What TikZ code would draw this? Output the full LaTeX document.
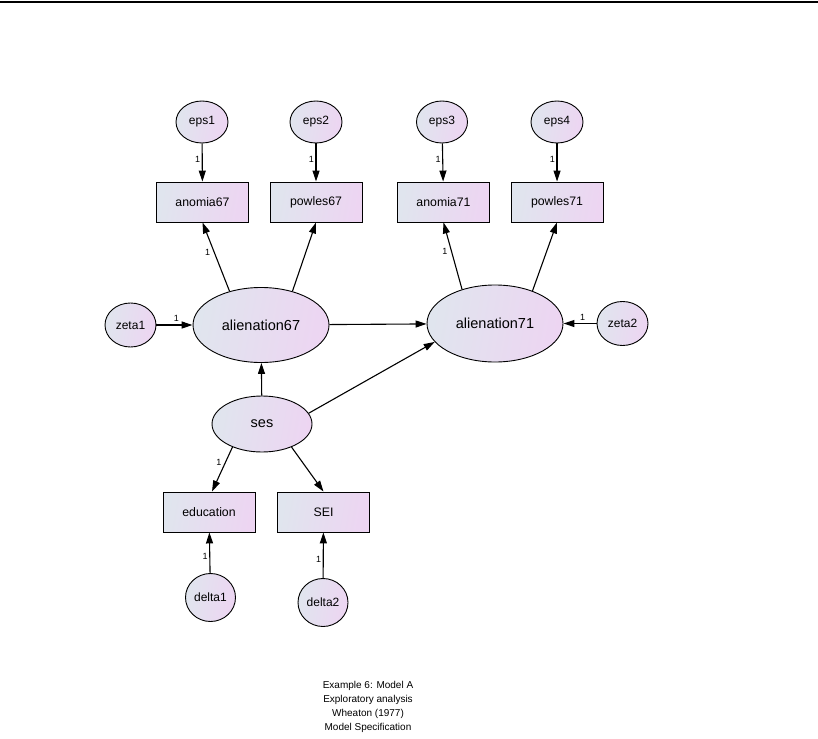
\documentclass[tikz,border=0pt]{standalone}
\usepackage{fontspec}
\setmainfont{Liberation Sans}
\usetikzlibrary{shapes.geometric,arrows.meta}
\definecolor{shA}{HTML}{E0E5EE}
\definecolor{shB}{HTML}{EDD5F2}
\tikzset{
  fillgrad/.style={left color=shA, right color=shB, shading angle=80},
  latent/.style={ellipse, draw, line width=0.9pt, fillgrad, inner sep=0pt},
  small/.style={latent, font=\fontsize{12}{12}\selectfont},
  big/.style={latent, font=\fontsize{14.5}{14.5}\selectfont},
  obs/.style={rectangle, draw, line width=0.9pt, fillgrad, minimum width=92pt, minimum height=40pt, inner sep=0pt, font=\fontsize{12.3}{12.3}\selectfont},
  conn/.style={line width=1.1pt, -{Triangle[length=11pt,width=7pt]}},
  lbl/.style={font=\fontsize{9}{9}\selectfont, inner sep=1.5pt}
}
\begin{document}
\begin{tikzpicture}[x=1pt,y=-1pt]
\useasboundingbox (0,0) rectangle (818,738);
\draw[line width=1.4pt] (0,2) coordinate (tl) -- (818,2) coordinate (tr);
% error terms
\node[small, minimum width=52pt, minimum height=42pt] (eps1) at (202,122) {eps1};
\node[small, minimum width=52pt, minimum height=42pt] (eps2) at (316,122) {eps2};
\node[small, minimum width=51pt, minimum height=42pt] (eps3) at (442,122) {eps3};
\node[small, minimum width=52pt, minimum height=42pt] (eps4) at (557,122) {eps4};
% observed
\node[obs] (an67) at (202.5,202) {anomia67};
\node[obs] (pw67) at (316,202) {powles67};
\node[obs] (an71) at (443.5,202) {anomia71};
\node[obs] (pw71) at (557,202) {powles71};
% latent
\node[big, minimum width=136pt, minimum height=75pt] (a67) at (261,325) {alienation67};
\node[big, minimum width=136pt, minimum height=77pt] (a71) at (495,323.5) {alienation71};
\node[small, minimum width=51pt, minimum height=44pt] (zeta1) at (130.5,325) {zeta1};
\node[small, minimum width=51pt, minimum height=44pt] (zeta2) at (622.5,323.5) {zeta2};
\node[big, minimum width=100pt, minimum height=56pt] (ses) at (262,424) {ses};
\node[obs] (edu) at (209,512) {education};
\node[obs] (sei) at (323.5,512) {SEI};
\node[small, minimum width=50pt, minimum height=48pt] (delta1) at (210.5,597.5) {delta1};
\node[small, minimum width=50pt, minimum height=48pt] (delta2) at (323,602.5) {delta2};
% connectors
\draw[conn] (eps1) -- node[lbl, pos=0.42, left] {1} (an67);
\draw[conn] (eps2) -- node[lbl, pos=0.42, left] {1} (pw67);
\draw[conn] (eps3) -- node[lbl, pos=0.42, left] {1} (an71);
\draw[conn] (eps4) -- node[lbl, pos=0.42, left] {1} (pw71);
\draw[conn] (a67.133) -- node[lbl, pos=0.57, left=2pt] {1} (an67.south);
\draw[conn] (a67.47) -- (pw67.south);
\draw[conn] (a71.134) -- node[lbl, pos=0.57, left=2pt] {1} (an71.south);
\draw[conn] (a71.41) -- (pw71.south);
\draw[conn] (zeta1) -- node[lbl, pos=0.55, above=1pt] {1} (a67);
\draw[conn] (zeta2) -- node[lbl, pos=0.42, above=1pt] {1} (a71);
\draw[conn] (a67) -- (a71);
\draw[conn] (ses) -- (a67);
\draw[conn] (ses.13) -- (a71.197);
\draw[conn] (ses.218) -- node[lbl, pos=0.35, left=2pt] {1} ([xshift=3pt]edu.north);
\draw[conn] (ses.322) -- (sei.north);
\draw[conn] (delta1) -- node[lbl, pos=0.4, left] {1} (edu);
\draw[conn] (delta2) -- node[lbl, pos=0.42, left] {1} (sei);
% caption
\node[align=center, font=\fontsize{10}{13.8}\selectfont] (cap) at (368,707) {Example 6: Model A\\Exploratory analysis\\Wheaton (1977)\\Model Specification};
\end{tikzpicture}
\end{document}
